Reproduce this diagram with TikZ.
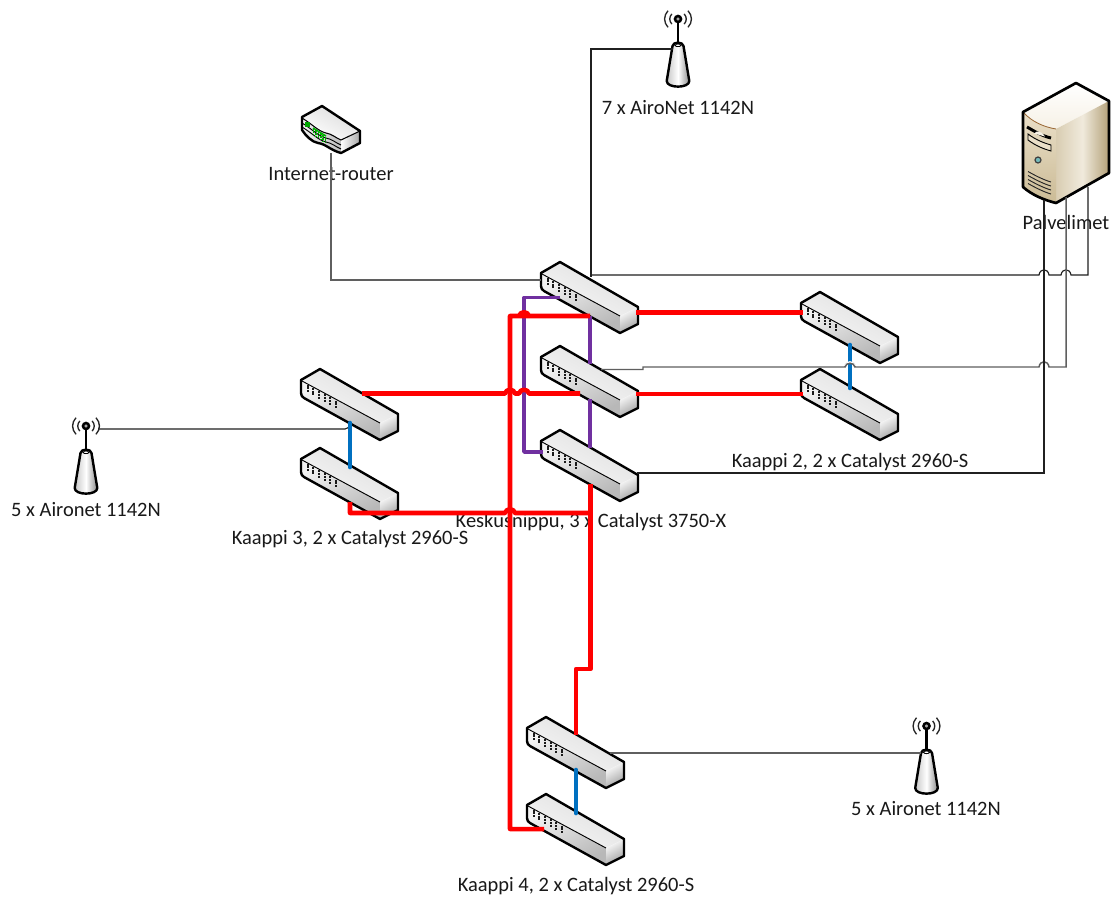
\documentclass[tikz,border=0pt]{standalone}
\usepackage{fontspec}
\setmainfont{Carlito}
\usetikzlibrary{calc}
\definecolor{netred}{HTML}{FF0000}
\definecolor{netpurple}{HTML}{7030A0}
\definecolor{netblue}{HTML}{0070C0}
\definecolor{thinA}{HTML}{202020}
\definecolor{thinB}{HTML}{5F5F5F}
\definecolor{srvfronta}{HTML}{EADFC8}
\definecolor{srvfrontb}{HTML}{CBBB96}
\definecolor{srvsidea}{HTML}{D9CDB2}
\definecolor{srvsideb}{HTML}{F0EADC}
\definecolor{srvsidec}{HTML}{B3A078}
\definecolor{srvtop}{HTML}{F6F1E6}
\tikzset{
  x=0.75pt,y=-0.75pt,
  outline/.style={draw=black,line width=1.8pt,line join=round},
  ghost/.style={inner sep=0pt,outer sep=0pt,draw=none,fill=none},
  lbl/.style={inner sep=0pt,yshift=-1.1pt,font=\fontsize{15.35}{17}\selectfont,text=black!90},
  redlink/.style={draw=netred,line width=3.4pt,line join=round},
  purplelink/.style={draw=netpurple,line width=2.7pt,line join=round},
  bluelink/.style={draw=netblue,line width=3.5pt,line cap=round},
  thinlink/.style={draw=thinA,line width=0.85pt},
  graylink/.style={draw=thinB,line width=1.1pt},
  hr/.style args={#1/#2}{insert path={-- (#1-5,#2) .. controls (#1-4,#2-5) and (#1+4,#2-5) .. (#1+5,#2)}},
  ht/.style args={#1/#2}{insert path={-- (#1-5,#2) .. controls (#1-4,#2-7) and (#1+4,#2-7) .. (#1+5,#2)}},
}
\newcommand\swnode[3]{%
  \begin{scope}[shift={(#2,#3)}]
    \shade[top color=black!13,bottom color=black!3,shading angle=-30] (0,11) -- (19,0) -- (97,45) -- (79,54) -- cycle;
    \shade[top color=black!5,bottom color=black!28,shading angle=30] (0,11) -- (79,54) -- (79,71) -- (3,29) -- (0,24) -- cycle;
    \shade[left color=white,right color=black!38,shading angle=30] (79,54) -- (97,45) -- (97,62) -- (79,71) -- cycle;
    \draw[draw=black,line width=0.7pt] (1,12) -- (79,54);
    \foreach \i in {0,...,5}{
      \draw[draw=black!90,line width=1.5pt,dash pattern=on 1.5pt off 0.6pt] (6.5+5.7*\i,15.5+3.2*\i) -- (6.5+5.7*\i,23.5+3.2*\i);
    }
    \draw[outline] (0,11) -- (19,0) -- (97,45) -- (97,62) -- (79,71) -- (3,29) .. controls (1,28) and (0,26) .. (0,24) -- cycle;
    \node[ghost,minimum width=72.75pt,minimum height=53.25pt] (#1) at (48.5,35.5) {};
  \end{scope}}
\newcommand\apnode[3]{%
  \begin{scope}[shift={(#2,#3)}]
    \draw[draw=black,line width=1.8pt] (0,0) -- (0,25);
    \shade[left color=black!22,right color=black!45,middle color=white] (-5.5,27) -- (5.5,27) -- (11.3,62) .. controls (11.3,69.5) and (-11.3,69.5) .. (-11.3,62) -- cycle;
    \draw[outline] (-5.5,27) .. controls (-5,22.5) and (5,22.5) .. (5.5,27) -- (11.3,62) .. controls (11.3,69.5) and (-11.3,69.5) .. (-11.3,62) -- cycle;
    \draw[draw=black,line width=0.6pt,fill=white] (-3,26.5) .. controls (-2,24.5) and (2,24.5) .. (3,26.5) .. controls (2,28) and (-2,28) .. (-3,26.5) -- cycle;
    \filldraw[fill=black!35,draw=black,line width=1.9pt] (0,0) circle[radius=3];
    \foreach \r in {8,13}{
      \draw[draw=black!85,line width=1pt] (-0.77*\r,-0.64*\r) .. controls (-1.12*\r,-0.25*\r) and (-1.12*\r,0.25*\r) .. (-0.77*\r,0.64*\r);
      \draw[draw=black!85,line width=1pt] (0.77*\r,-0.64*\r) .. controls (1.12*\r,-0.25*\r) and (1.12*\r,0.25*\r) .. (0.77*\r,0.64*\r);
    }
    \node[ghost,minimum width=22pt,minimum height=40pt] (#1) at (0,0) {};
  \end{scope}}
\begin{document}
\begin{tikzpicture}
\useasboundingbox (0,0) rectangle (1116,897);
\fill[white] (0,0) rectangle (1116,897);
% router
\shade[top color=black!14,bottom color=white,shading angle=-30] (302,117) -- (322,106) -- (360,131) -- (341,140) -- (322,130) -- cycle;
\shade[left color=black!5,right color=black!25] (302,118) .. controls (312,124) and (318,131) .. (326,133) .. controls (332,134) and (336,138) .. (341,140) -- (341,153) .. controls (330,150) and (326,144) .. (318,143) .. controls (312,142) and (306,136) .. (302,130) -- cycle;
\shade[left color=white,right color=black!35] (341,140) -- (360,131) -- (360,143) -- (341,153) -- cycle;
\draw[draw=black,line width=0.7pt] (302,123) .. controls (312,129) and (318,136) .. (326,138) .. controls (332,139) and (336,143) .. (341,145);
\draw[draw=black,line width=0.7pt] (302,127) .. controls (312,133) and (318,140) .. (326,142) .. controls (332,143) and (336,147) .. (341,149);
\draw[draw=black,line width=0.8pt] (302,118) .. controls (312,124) and (318,131) .. (326,133) .. controls (332,134) and (336,138) .. (341,140) -- (360,131);
\fill[green!65!black] (305,122) rectangle (310,127);
\foreach \i in {0,...,5}{\draw[draw=green!70!black,line width=1.2pt,dash pattern=on 1.6pt off 0.5pt] (313.5+2.4*\i,128.5+1.6*\i) -- (313.5+2.4*\i,135+1.6*\i);}
\draw[draw=green!70!black,line width=1.1pt] (313,128) -- (326,136);
\draw[outline] (302,117) -- (322,106) -- (360,131) -- (360,143) -- (341,153) .. controls (330,150) and (326,144) .. (318,143) .. controls (312,142) and (306,136) .. (302,130) -- cycle;
\node[ghost,minimum width=43.5pt,minimum height=35.25pt] (router) at (331,129.5) {};
% server
\shade[top color=white,bottom color=srvtop] (1023,112) -- (1076,83) -- (1109,101) -- (1056,129) .. controls (1044,127) and (1032,122) .. (1023,112) -- cycle;
\shade[left color=srvsidea,right color=srvsidec,middle color=srvsideb] (1056,129) -- (1109,101) -- (1109,173) -- (1056,203) -- cycle;
\shade[top color=srvfronta,bottom color=srvfrontb] (1023,112) .. controls (1032,122) and (1044,127) .. (1056,129) -- (1056,203) .. controls (1044,200) and (1032,195) .. (1023,187) -- cycle;
\draw[draw=brown!80!black,line width=0.6pt] (1023,112) .. controls (1032,122) and (1044,127) .. (1056,129);
\draw[draw=black,line width=2.2pt] (1027,127) .. controls (1034,131) and (1042,136) .. (1051,138);
\fill[srvtop] (1034,133.5) .. controls (1037,130) and (1042,131) .. (1045,136.5) -- cycle;
\filldraw[fill=srvfronta,draw=black,line width=0.7pt] (1028,134) .. controls (1036,140) and (1044,143) .. (1051,145) -- (1051,151) .. controls (1044,149) and (1036,146) .. (1028,140) -- cycle;
\filldraw[fill=teal!55!white,draw=black!75,line width=0.9pt] (1038,160) circle[radius=3];
\foreach \d in {0,4,8,12}{\draw[draw=black!85,line width=0.7pt] (1028,171.5+\d) .. controls (1036,176+\d) and (1044,180+\d) .. (1051,182+\d);}
\draw[outline,line width=2pt] (1023,112) -- (1076,83) -- (1109,101) -- (1109,173) -- (1056,203) .. controls (1044,200) and (1032,195) .. (1023,187) -- cycle;
\node[ghost,minimum width=64.5pt,minimum height=90pt] (srv) at (1066,143) {};
% access points
\apnode{apt}{678}{19}
\apnode{apl}{86}{426}
\apnode{apr}{926.5}{726}
% switches
\swnode{sa}{541}{262}
\swnode{sb}{541}{346}
\swnode{sc}{541}{430}
\swnode{ka}{801}{292}
\swnode{kb}{801}{369}
\swnode{kc}{301}{369}
\swnode{kd}{301}{448}
\swnode{ke}{527}{717}
\swnode{kf}{527}{794}
% labels
\node[lbl] (tr) at (331,173) {Internet-router};
\node[lbl] (tp) at (678,106) {7 x AiroNet 1142N};
\node[lbl] (ts) at (1066,221) {Palvelimet};
\node[lbl] (tk) at (850,461) {Kaappi 2, 2 x Catalyst 2960-S};
\node[lbl] (tc) at (350,538) {Kaappi 3, 2 x Catalyst 2960-S};
\node[lbl] (tm) at (591,521) {Keskusnippu, 3 x Catalyst 3750-X};
\node[lbl] (tf) at (576,885) {Kaappi 4, 2 x Catalyst 2960-S};
\node[lbl] (tl) at (86,508) {5 x Aironet 1142N};
\node[lbl] (tq) at (926,807) {5 x Aironet 1142N};
% thin connectors
\draw[graylink] (router.south) |- ($(sa.north west)+(0,18)$);
\draw[thinlink] ($(apt)+(-5,30)$) -| ($(sa.north west)+(50,15)$);
\draw[thinlink] ($(sa.north west)+(50,13)$) [ht=1044/275] [ht=1066/275] -- (1088,275) -- ($(srv.south)+(22,-16)$);
\draw[graylink] ($(sb.north west)+(60,23.5)$) -- (643,369.5) -- (643,367) [ht=850/367] [ht=1044/367] -- (1066,367) -- ($(srv.south)+(0,-6)$);
\draw[thinlink] ($(sc.north west)+(96,43)$) -- (1044,473) -- ($(srv.south)+(-22,-3)$);
\draw[thinlink] ($(apl)+(12,3)$) -- (345,429) .. controls (348,429) and (349,427) .. ($(kc.north west)+(49,55)$);
\draw[graylink] ($(ke.north west)+(83,36)$) -- ($(apr)+(-6,27)$);
% purple
\draw[purplelink] ($(sa.north west)+(19,35.5)$) -- (524,297.5) -- (524,452) -- ($(sc.north west)+(2,22)$);
\draw[purplelink] ($(sa.north west)+(49,54)$) -- ($(sb.north west)+(49,18)$);
\draw[purplelink] ($(sb.north west)+(49,53)$) -- ($(sc.north west)+(49,18)$);
% red
\draw[redlink] ($(sa.north west)+(95,50.5)$) -- ($(ka.north west)+(2,20.5)$);
\draw[redlink] ($(sb.north west)+(95,48)$) -- ($(kb.north west)+(2,25)$);
\draw[redlink] ($(kc.north west)+(61,24.5)$) [hr=510/393.5] [hr=524/393.5] -- ($(sb.north west)+(39,47.5)$);
\draw[redlink] ($(sa.north west)+(49,54)$) [hr=524/316] -- (510,316) -- (510,829) -- ($(kf.north west)+(17,35)$);
\draw[redlink] ($(kd.north west)+(49,54)$) -- (350,513) [hr=510/513] -- (590.5,513) -- ($(sc.north west)+(49.5,54)$);
\draw[redlink] ($(sc.north west)+(49.5,54)$) -- (590.5,669) -- (576,669) -- ($(ke.north west)+(49,18)$);
% blue
\draw[bluelink] ($(ka.north west)+(49,53)$) -- ($(kb.north west)+(49,19)$);
\draw[bluelink] ($(kc.north west)+(49,54)$) -- ($(kd.north west)+(49,19)$);
\draw[bluelink] ($(ke.north west)+(49,53)$) -- ($(kf.north west)+(49,19)$);
\draw[draw=white,line width=1.6pt] (845,366) .. controls (846,361) and (854,361) .. (855,366);
\draw[graylink] (845,367) .. controls (846,362) and (854,362) .. (855,367);
\end{tikzpicture}
\end{document}
